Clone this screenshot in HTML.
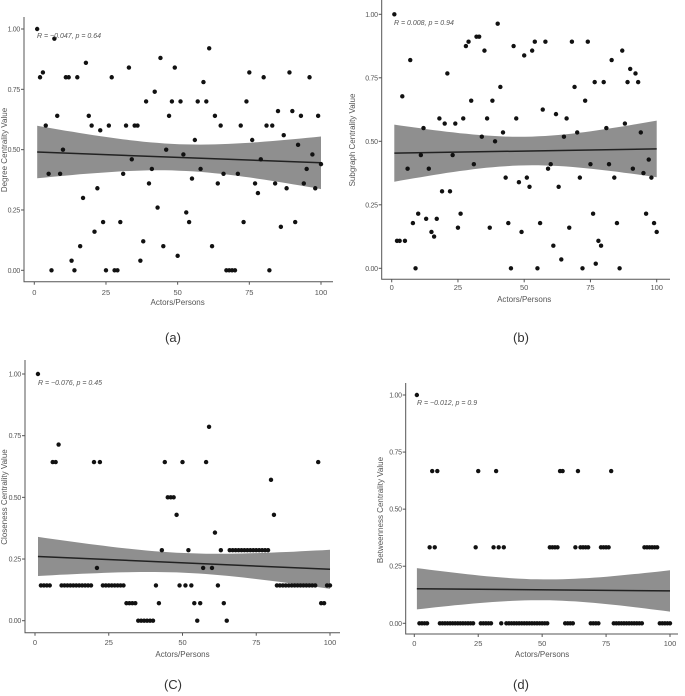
<!DOCTYPE html>
<html><head><meta charset="utf-8"><style>
body{margin:0;background:#fff;width:685px;height:696px;overflow:hidden}
svg{display:block;font-family:"Liberation Sans",sans-serif}
</style></head><body>
<svg id="s" width="685" height="696" viewBox="0 0 685 696"></svg>
<script>
// Panel (a) Degree
const degreeX = Array.from({length:100},(_,i)=>i+1);
const degreeY = [1.00,0.80,0.82,0.60,0.40,0,0.96,0.64,0.40,0.50,0.80,0.80,0.04,0,0.80,0.10,0.30,0.86,0.64,0.60,0.16,0.34,0.58,0.20,0,0.60,0.80,0,0,0.20,0.40,0.60,0.84,0.46,0.60,0.60,0.04,0.12,0.70,0.36,0.42,0.74,0.26,0.88,0.10,0.50,0.64,0.70,0.84,0.06,0.70,0.48,0.24,0.20,0.38,0.54,0.70,0.42,0.78,0.70,0.92,0.10,0.64,0.36,0.60,0.40,0,0,0,0,0.40,0.60,0.20,0.70,0.82,0.54,0.36,0.32,0.46,0.80,0.60,0,0.60,0.36,0.66,0.18,0.56,0.34,0.82,0.66,0.20,0.52,0.64,0.36,0.42,0.80,0.48,0.34,0.64,0.44];
// Panel (b) Subgraph
const subgraphX = [1,2,3,4,5,6,7,8,9,10,11,12,13,14,15,16,17,18,19,20,21,22,23,24,25,26,27,28,29,30,31,32,33,34,35,36,37,38,39,40,41,42,43,44,45,46,47,48,49,50,51,52,53,54,55,56,57,58,59,60,61,62,63,64,65,66,67,68,69,70,71,72,73,74,75,76,76.6,77,78,79,80,81,82,83,84,85,86,87,88,89,90,91,92,93,94,95,96,97,98,99,100];
const subgraphY = [1.00,0.108,0.108,0.677,0.108,0.392,0.82,0.178,0,0.215,0.446,0.552,0.195,0.392,0.143,0.125,0.195,0.59,0.303,0.57,0.767,0.303,0.446,0.57,0.16,0.215,0.59,0.875,0.892,0.66,0.41,0.912,0.912,0.518,0.857,0.59,0.16,0.66,0.5,0.963,0.714,0.535,0.357,0.178,0,0.875,0.59,0.339,0.143,0.838,0.357,0.321,0.857,0.892,0,0.178,0.625,0.892,0.392,0.41,0.089,0.607,0.321,0.035,0.518,0.59,0.16,0.892,0.714,0.535,0.357,0,0.66,0.892,0.41,0.215,0.733,0.018,0.108,0.089,0.733,0.552,0.41,0.82,0.357,0.178,0,0.857,0.57,0.733,0.785,0.392,0.767,0.733,0.535,0.375,0.215,0.428,0.357,0.178,0.143];
// Panel (c) Closeness
const closenessX = Array.from({length:100},(_,i)=>i+1);
const closenessY = [1.0,0.143,0.143,0.143,0.143,0.643,0.643,0.714,0.143,0.143,0.143,0.143,0.143,0.143,0.143,0.143,0.143,0.143,0.143,0.643,0.214,0.643,0.143,0.143,0.143,0.143,0.143,0.143,0.143,0.143,0.071,0.071,0.071,0.071,0,0,0,0,0,0,0.143,0.071,0.286,0.643,0.5,0.5,0.5,0.429,0.143,0.643,0.143,0.286,0.143,0.071,0,0.071,0.214,0.643,0.786,0.214,0.357,0.143,0.286,0.071,0,0.286,0.286,0.286,0.286,0.286,0.286,0.286,0.286,0.286,0.286,0.286,0.286,0.286,0.286,0.571,0.429,0.143,0.143,0.143,0.143,0.143,0.143,0.143,0.143,0.143,0.143,0.143,0.143,0.143,0.143,0.643,0.071,0.071,0.143,0.143];
// Panel (d) Betweenness
const betweennessX = Array.from({length:100},(_,i)=>i+1);
const betweennessHigh = [7,9,25,32,57,58,64,77];
const betweennessMid = [6,8,24,31,33,35,53,54,55,56,63,65,66,67,68,73,74,75,76,90,91,92,93,94,95];
const betweennessY = betweennessX.map(x=> x===1?1.0 : betweennessHigh.includes(x)?0.667 : betweennessMid.includes(x)?0.333 : 0);

const yTicks = [0,0.25,0.5,0.75,1];
const yTickLabels = ["0.00","0.25","0.50","0.75","1.00"];
const xTicks = [0,25,50,75,100];
const xTickLabels = ["0","25","50","75","100"];

const NS="http://www.w3.org/2000/svg";
const svg=document.getElementById('s');
function el(tag,attrs,parent){const e=document.createElementNS(NS,tag);for(const k in attrs)e.setAttribute(k,attrs[k]);(parent||svg).appendChild(e);return e;}

const panels=[
 {id:'a',xs:degreeX,ys:degreeY,x0:34.3,x1:321,y0:270.3,y1:29,axL:24,axB:281.7,axT:17,axR:333,title:"Degree Centrality Value",tx:7,ty:150,stat:"R = \u22120.047, p = 0.64",sx:37,sy:38,lab:"(a)",lx:173,ly:342,xtY:295,xlY:305},
 {id:'b',xs:subgraphX,ys:subgraphY,x0:391.7,x1:656.7,y0:268.3,y1:14.3,axL:381.7,axB:279.3,axT:0,axR:670,title:"Subgraph Centrality Value",tx:355,ty:140,stat:"R = 0.008, p = 0.94",sx:394,sy:25,lab:"(b)",lx:521,ly:342,xtY:290,xlY:302},
 {id:'c',xs:closenessX,ys:closenessY,x0:35,x1:330,y0:620.7,y1:374,axL:25,axB:632.7,axT:360,axR:340,title:"Closeness Centrality Value",tx:7,ty:497,stat:"R = \u22120.076, p = 0.45",sx:38,sy:385,lab:"(C)",lx:173,ly:689,xtY:645,xlY:657},
 {id:'d',xs:betweennessX,ys:betweennessY,x0:414.3,x1:670,y0:623.3,y1:395,axL:405.7,axB:634,axT:383,axR:678,title:"Betweenness Centrality Value",tx:383,ty:510,stat:"R = \u22120.012, p = 0.9",sx:417,sy:405,lab:"(d)",lx:521,ly:689,xtY:646,xlY:657}
];

panels.forEach(p=>{
 const g=el('g',{});
 
 
 const X=v=>p.x0+(p.x1-p.x0)*v/100, Y=v=>p.y0+(p.y1-p.y0)*v;
 const n=p.xs.length; const mx=p.xs.reduce((a,b)=>a+b)/n, my=p.ys.reduce((a,b)=>a+b)/n;
 let sxx=0,sxy=0; p.xs.forEach((x,i)=>{sxx+=(x-mx)**2;sxy+=(x-mx)*(p.ys[i]-my);});
 const b=sxy/sxx,a=my-b*mx; let sse=0; p.xs.forEach((x,i)=>{sse+=(p.ys[i]-a-b*x)**2;});
 const s=Math.sqrt(sse/(n-2)),t=1.984;
 const xmin=Math.min(...p.xs),xmax=Math.max(...p.xs);
 const up=[],lo=[];
 for(let k=0;k<=40;k++){const x=xmin+(xmax-xmin)*k/40;const f=a+b*x;const h=t*s*Math.sqrt(1/n+(x-mx)**2/sxx);
  up.push(X(x).toFixed(1)+','+Y(f+h).toFixed(1));lo.unshift(X(x).toFixed(1)+','+Y(f-h).toFixed(1));}
 const band=el('polygon',{points:up.concat(lo).join(' '),fill:'#8f8f8f'},g);
 
 
 const ln=el('line',{x1:X(xmin),y1:Y(a+b*xmin),x2:X(xmax),y2:Y(a+b*xmax),stroke:'#222','stroke-width':1.5},g);
 
 
 const ax=el('path',{d:`M${p.axL},${p.axT}V${p.axB}H${p.axR}`,stroke:'#555','stroke-width':1,fill:'none'},g);
 
 
 yTicks.forEach((v,i)=>{
  el('line',{x1:p.axL-3,x2:p.axL,y1:Y(v),y2:Y(v),stroke:'#555'},g);
  const tl=el('text',{x:p.axL-4,y:Y(v)+2.5,'font-size':7,fill:'#555','text-anchor':'end','letter-spacing':'-0.3'},g);
  tl.textContent=yTickLabels[i];
  
  
 });
 xTicks.forEach((v,i)=>{
  el('line',{x1:X(v),x2:X(v),y1:p.axB,y2:p.axB+3,stroke:'#555'},g);
  const tl=el('text',{x:X(v),y:p.xtY,'font-size':7.5,fill:'#555','text-anchor':'middle'},g);
  tl.textContent=xTickLabels[i];
  
  
 });
 p.xs.forEach((x,i)=>{
  const c=el('circle',{cx:X(x),cy:Y(p.ys[i]),r:2.2,fill:'#111'},g);
  
  
 });
 const st=el('text',{x:p.sx,y:p.sy,'font-size':7,fill:'#555','font-style':'italic'},g);
 st.textContent=p.stat;
 
 
 const yt=el('text',{x:p.tx,y:p.ty,'font-size':8,fill:'#555','text-anchor':'middle',transform:`rotate(-90 ${p.tx} ${p.ty})`},g);
 yt.textContent=p.title;
 
 
 const xt=el('text',{x:(p.x0+p.x1)/2,y:p.xlY,'font-size':8,fill:'#555','text-anchor':'middle'},g);
 xt.textContent="Actors/Persons";
 
 
 const lb=el('text',{x:p.lx,y:p.ly,'font-size':13,fill:'#333','text-anchor':'middle'},g);
 lb.textContent=p.lab;
 
 
});
</script>
</body></html>
